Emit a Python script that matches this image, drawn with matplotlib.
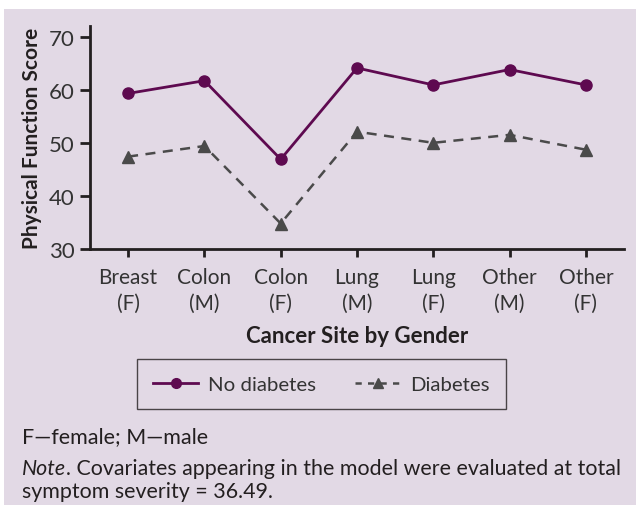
import matplotlib.pyplot as plt
from matplotlib.patches import Rectangle
from matplotlib.lines import Line2D

plt.rcParams['font.family'] = ['Lato', 'DejaVu Sans']

# cancer site by gender, mean physical function score
sites = ['Breast\n(F)', 'Colon\n(M)', 'Colon\n(F)', 'Lung\n(M)', 'Lung\n(F)', 'Other\n(M)', 'Other\n(F)']
no_diabetes = [59.3, 61.7, 46.9, 64.1, 60.9, 63.8, 60.9]
diabetes = [47.4, 49.4, 34.8, 52.1, 50.0, 51.5, 48.7]

bg = '#e2d9e5'
purple = '#5e0a50'
grey = '#4a4a4a'
dark = '#231f20'

fig = plt.figure(figsize=(6.36, 5.06), dpi=100)
fig.patches.append(Rectangle((4/636, 0), 1, 1 - 10/506, transform=fig.transFigure,
                             facecolor=bg, edgecolor='none', zorder=-10))

ax = fig.add_axes([90/636, 1 - 250/506, (624 - 90)/636, (250 - 27)/506])
ax.set_facecolor(bg)
x = list(range(len(sites)))
ax.plot(x, no_diabetes, '-o', color=purple, lw=2, ms=8, label='No diabetes', clip_on=False)
ax.plot(x, diabetes, '--^', color=grey, lw=1.8, ms=8, dashes=(4, 3), label='Diabetes', clip_on=False)

ax.set_xlim(-0.5, 6.5)
ax.set_ylim(30, 72)
ax.set_yticks([30, 40, 50, 60, 70])
ax.set_xticks(x)
ax.set_xticklabels(sites, fontsize=15, color='#333333', linespacing=1.35)
ax.tick_params(axis='y', labelsize=16, colors=dark, labelcolor='#333333', length=7, width=2, pad=4)
ax.tick_params(axis='x', colors=dark, labelcolor='#333333', length=6, width=2, pad=7)
for s in ['top', 'right']:
    ax.spines[s].set_visible(False)
for s in ['left', 'bottom']:
    ax.spines[s].set_linewidth(2)
    ax.spines[s].set_color(dark)

ax.set_ylabel('Physical Function Score', fontsize=15, fontweight='bold', color=dark, labelpad=5)
ax.set_xlabel('Cancer Site by Gender', fontsize=16, fontweight='bold', color=dark, labelpad=9)

handles = [Line2D([], [], color=purple, lw=2, marker='o', ms=7),
           Line2D([], [], color=grey, lw=1.8, marker='^', ms=7, ls='--', dashes=(2.5, 2.5))]
leg = fig.legend(handles, ['No diabetes', 'Diabetes'], loc='center',
                 bbox_to_anchor=(321.5/636, 1 - 385/506), ncol=2, fontsize=14.7,
                 frameon=True, fancybox=False, edgecolor=dark, facecolor=bg,
                 handlelength=2.2, columnspacing=1.9, borderpad=0.8, handletextpad=0.5)
leg.get_frame().set_linewidth(1)
for t in leg.get_texts():
    t.set_color('#333333')

fig.text(22/636, 1 - 437/506, 'F\u2014female; M\u2014male', fontsize=15.5, color=dark, va='center')
note = fig.text(22/636, 1 - 469/506, 'Note', fontsize=15.4, style='italic', color=dark, va='center')
ax.annotate('. Covariates appearing in the model were evaluated at total', xy=(1, 0.5),
            xycoords=note, va='center', ha='left', fontsize=15.4, color=dark)
fig.text(22/636, 1 - 492/506, 'symptom severity = 36.49.', fontsize=15.4, color=dark, va='center')

fig.savefig('out.png', dpi=100, facecolor='white')
